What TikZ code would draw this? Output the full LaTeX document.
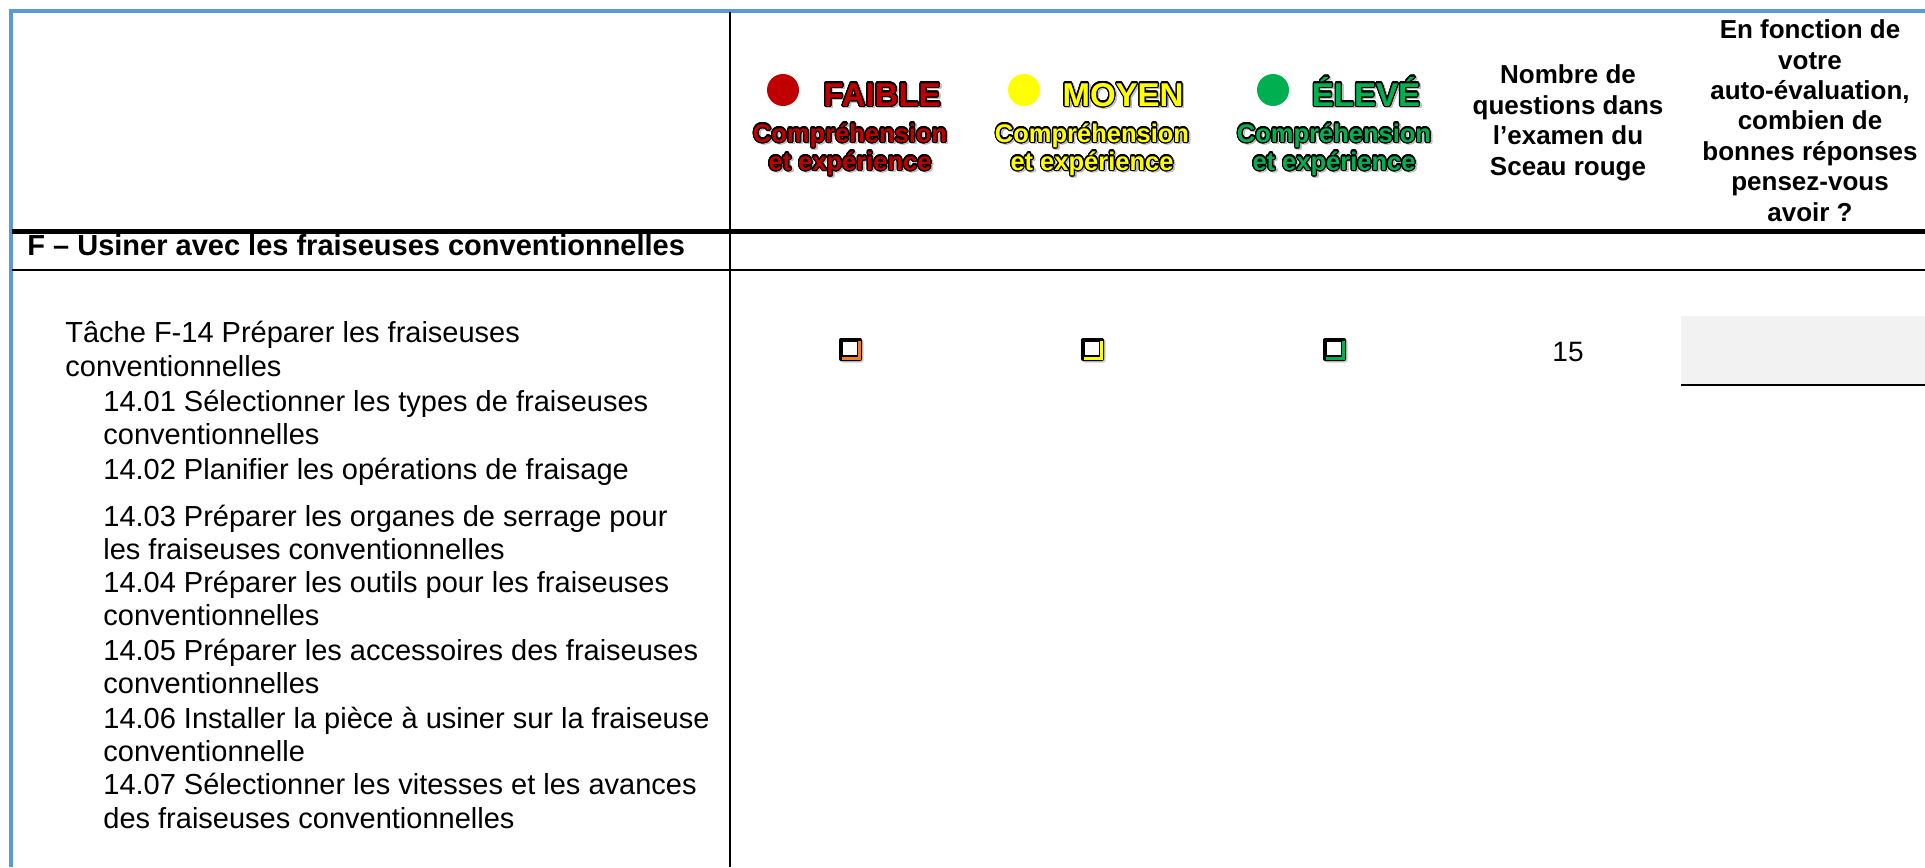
\documentclass[tikz,border=0pt]{standalone}
\usepackage{fontspec}
\setmainfont{Liberation Sans}
\usepackage{contour}
\contourlength{0.6pt}
\contournumber{24}
\usetikzlibrary{positioning}
\definecolor{frameblue}{HTML}{5B9BD5}
\definecolor{lowred}{HTML}{C00000}
\definecolor{midyellow}{HTML}{FFFF00}
\definecolor{highgreen}{HTML}{00B050}
\definecolor{boxorange}{HTML}{ED7D31}
\definecolor{answergrey}{HTML}{F2F2F2}
% outlined word with a light shadow
\newcommand{\lvltext}[2]{\leavevmode\rlap{\raisebox{-0.8pt}{\hspace{0.8pt}\contour{black!25}{\textcolor{black!25}{#2}}}}\contour{black}{\textcolor{#1}{#2}}}
\tikzset{
 body/.style={anchor=base west,inner sep=0pt,align=left,font=\fontsize{14.5}{16.75}\selectfont},
 colhead/.style={anchor=base,inner sep=0pt,align=center,font=\bfseries\fontsize{13}{15.2}\selectfont},
 level/.style={anchor=base,inner sep=0pt,font=\bfseries\fontsize{16.5}{18}\selectfont},
 levelsub/.style={anchor=base,inner sep=0pt,align=center,font=\bfseries\fontsize{12.75}{14}\selectfont},
 rule/.style={line width=#1,black},
}
\begin{document}
\begin{tikzpicture}[x=0.5pt,y=-0.5pt]
 \useasboundingbox (0,0) rectangle (1925,867);
 % table rules
 \draw[frameblue,line width=1.75pt] (11,867) -- (11,11) -- (1925,11);
 \draw[rule=1pt] (730,12) -- (730,867);
 \draw[rule=2.5pt] (12,231) -- (1925,231);
 \draw[rule=0.9pt] (12,270) -- (1925,270);
 % level columns (multi-line nodes sit on their last line)
 \fill[lowred] (783,90) circle (16);
 \fill[midyellow] (1024,90) circle (16);
 \fill[highgreen] (1273,90) circle (16);
 \node[level] (low) at (882,106) {\lvltext{lowred}{FAIBLE}};
 \node[level] (mid) at (1123,106) {\lvltext{midyellow}{MOYEN}};
 \node[level] (high) at (1366,106) {\lvltext{highgreen}{ÉLEVÉ}};
 \node[levelsub] (lowsub) at (850,170) {\lvltext{lowred}{Compréhension}\\\lvltext{lowred}{et expérience}};
 \node[levelsub] (midsub) at (1092,170) {\lvltext{midyellow}{Compréhension}\\\lvltext{midyellow}{et expérience}};
 \node[levelsub] (highsub) at (1334,170) {\lvltext{highgreen}{Compréhension}\\\lvltext{highgreen}{et expérience}};
 \node[colhead] (count) at (1568,175) {Nombre de\\questions dans\\l’examen du\\Sceau rouge};
 \node[colhead] (guess) at (1810,221) {En fonction de\\votre\\auto-évaluation,\\combien de\\bonnes réponses\\pensez-vous\\avoir ?};
 % section heading
 \node[body,font=\bfseries\fontsize{14.5}{16.75}\selectfont] (sec) at (27,255) {F – Usiner avec les fraiseuses conventionnelles};
 % task and sub-tasks
 \node[body] (task) at (65,376) {Tâche F-14 Préparer les fraiseuses\\conventionnelles};
 \node[body] (s01) at (103,444.5) {14.01 Sélectionner les types de fraiseuses\\conventionnelles};
 \node[body] (s02) at (103,479) {14.02 Planifier les opérations de fraisage};
 \node[body] (s03) at (103,559.5) {14.03 Préparer les organes de serrage pour\\les fraiseuses conventionnelles};
 \node[body] (s04) at (103,625.5) {14.04 Préparer les outils pour les fraiseuses\\conventionnelles};
 \node[body] (s05) at (103,693.5) {14.05 Préparer les accessoires des fraiseuses\\conventionnelles};
 \node[body] (s06) at (103,761.5) {14.06 Installer la pièce à usiner sur la fraiseuse\\conventionnelle};
 \node[body] (s07) at (103,828) {14.07 Sélectionner les vitesses et les avances\\des fraiseuses conventionnelles};
 % check boxes
 \fill[black!20,rounded corners=1pt] (840.5,339.5) rectangle (863.5,362.5);
 \fill[black,rounded corners=1pt] (839,338) rectangle (862,361);
 \fill[boxorange] (841.5,340.5) rectangle (860.5,359.5);
 \fill[black] (841.5,340.5) rectangle (858,356.5);
 \fill[white] (842.5,341.5) rectangle (857,355);
 \fill[black!20,rounded corners=1pt] (1082.5,339.5) rectangle (1105.5,362.5);
 \fill[black,rounded corners=1pt] (1081,338) rectangle (1104,361);
 \fill[midyellow] (1083.5,340.5) rectangle (1102.5,359.5);
 \fill[black] (1083.5,340.5) rectangle (1100,356.5);
 \fill[white] (1084.5,341.5) rectangle (1099,355);
 \fill[black!20,rounded corners=1pt] (1324.5,339.5) rectangle (1347.5,362.5);
 \fill[black,rounded corners=1pt] (1323,338) rectangle (1346,361);
 \fill[highgreen] (1325.5,340.5) rectangle (1344.5,359.5);
 \fill[black] (1325.5,340.5) rectangle (1342,356.5);
 \fill[white] (1326.5,341.5) rectangle (1341,355);
 \node[body,anchor=base,font=\fontsize{14}{16}\selectfont] (qty) at (1568,361) {15};
 % answer field
 \fill[answergrey] (1681,316) rectangle (1925,384);
 \draw[rule=1pt] (1681,385) -- (1925,385);
\end{tikzpicture}
\end{document}
